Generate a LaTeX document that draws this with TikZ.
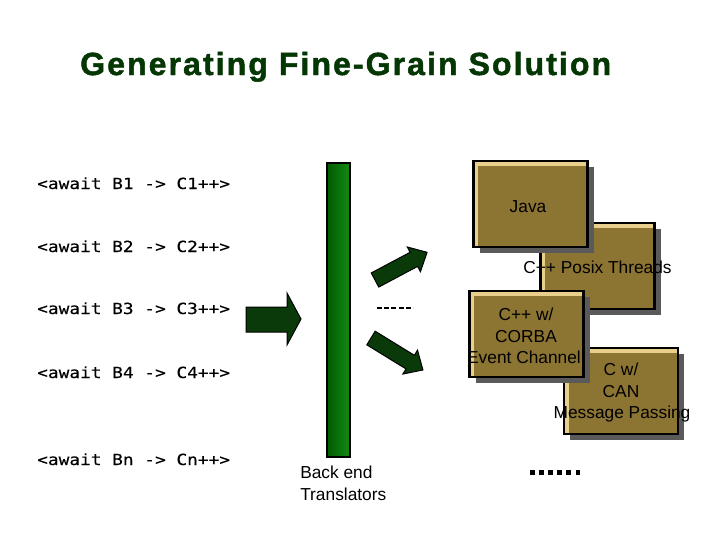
\documentclass[tikz,border=0pt]{standalone}
\usepackage{fontspec}
\setmainfont{Liberation Sans}
\newfontfamily\codefont{DejaVu Sans Mono}[FakeStretch=1.16,FakeBold=0.3]
\newfontfamily\titlefont{Liberation Sans}[LetterSpace=6.5,FakeBold=1.5]
\usetikzlibrary{shadows}
\definecolor{titlegreen}{RGB}{5,55,5}
\definecolor{arrowgreen}{RGB}{10,58,10}
\definecolor{boxfill}{RGB}{140,116,50}
\definecolor{boxhl}{RGB}{232,208,140}
\definecolor{shadowgray}{RGB}{90,90,90}
\definecolor{barleft}{RGB}{20,140,20}
\definecolor{barmid}{RGB}{30,170,30}
\definecolor{barright}{RGB}{0,90,0}
\newcommand\blockarrow[7]{%
  \begin{scope}[shift={(#1,#2)},rotate=#3]
    \filldraw[arrowstyle] (0,-#5) -- ({#4-#7},-#5) -- ({#4-#7},-#6) -- (#4,0)
      -- ({#4-#7},#6) -- ({#4-#7},#5) -- (0,#5) -- cycle;
  \end{scope}}
\tikzset{
  arrowstyle/.style={fill=arrowgreen, draw=black, line width=0.75pt},
  codeline/.style={anchor=base west, inner sep=0pt, font=\codefont\fontsize{11.5}{13}\selectfont},
  label13/.style={anchor=base, inner sep=0pt, font=\fontsize{13}{15}\selectfont},
  tbox/.style={draw=black, line width=1.7pt, fill=boxfill,
    minimum width=114*0.75pt, minimum height=86*0.75pt, inner sep=0pt,
    drop shadow={shadow xshift=6*0.75pt, shadow yshift=-6*0.75pt, fill=shadowgray, opacity=1},
    path picture={
      \fill[boxhl] (path picture bounding box.north west) rectangle ([xshift=4.5*0.75pt]path picture bounding box.south west);
      \fill[boxhl] (path picture bounding box.north west) rectangle ([yshift=-4.5*0.75pt]path picture bounding box.north east);
    }},
  barstyle/.style={draw=black, line width=1.2pt, shading=axis, shading angle=90,
    left color=barright, middle color=barmid, right color=barleft,
    minimum width=23*0.75pt, minimum height=294*0.75pt, inner sep=0pt},
  dotsq/.style={fill=black, minimum size=4.5*0.75pt, inner sep=0pt}
}
\begin{document}
\begin{tikzpicture}[x=0.75pt,y=-0.75pt]
\useasboundingbox (0,0) rectangle (720,540);
% title
\node[anchor=base west, inner sep=0pt, text=titlegreen, font=\titlefont\bfseries\fontsize{24}{28}\selectfont] (title) at (80,75) {Generating Fine-Grain Solution};
% code lines
\node[codeline] (c1) at (37,189) {<await B1 -> C1++>};
\node[codeline] (c2) at (37,252) {<await B2 -> C2++>};
\node[codeline] (c3) at (37,314) {<await B3 -> C3++>};
\node[codeline] (c4) at (37,378) {<await B4 -> C4++>};
\node[codeline] (cn) at (37,465) {<await Bn -> Cn++>};
% input arrow
\filldraw[arrowstyle] (246,307) -- (287,307) -- (287,293) -- (301,319) -- (287,345) -- (287,332) -- (246,332) -- cycle;
% bar
\node[barstyle] (bar) at (338.5,310) {};
\node[label13, anchor=base west] (be1) at (300,478) {Back end};
\node[label13, anchor=base west] (be2) at (300,500) {Translators};
% output arrows
\blockarrow{375}{280}{28}{59}{8}{14}{15}
\blockarrow{371}{338}{-31.6}{61}{8}{14}{15}
\coordinate (d1) at (377,308);
\coordinate (d2) at (413,308);
\draw[line width=1.1pt, dash pattern=on 3.8pt off 1.6pt] (d1) -- (d2);
% boxes
\node[tbox] (can) at (621,391) {};
\node[tbox] (posix) at (597.5,266) {};
\node[tbox] (corba) at (526.5,334) {};
\node[tbox] (java) at (530.5,204) {};
\node[label13] (tjava) at (528,212) {Java};
\node[label13] (tposix) at (597.5,273) {C++ Posix Threads};
\node[label13] (tcorba1) at (526,320) {C++ w/};
\node[label13] (tcorba2) at (526,342) {CORBA};
\node[label13] (tcorba3) at (524,363) {Event Channel};
\node[label13] (tcan1) at (621,375) {C w/};
\node[label13] (tcan2) at (621,397) {CAN};
\node[label13] (tcan3) at (622,418) {Message Passing};
% dots
\foreach \i in {0,...,5} {
  \node[dotsq] (dot\i) at ({532.25+9.1*\i},472.5) {};
}
\end{tikzpicture}
\end{document}
